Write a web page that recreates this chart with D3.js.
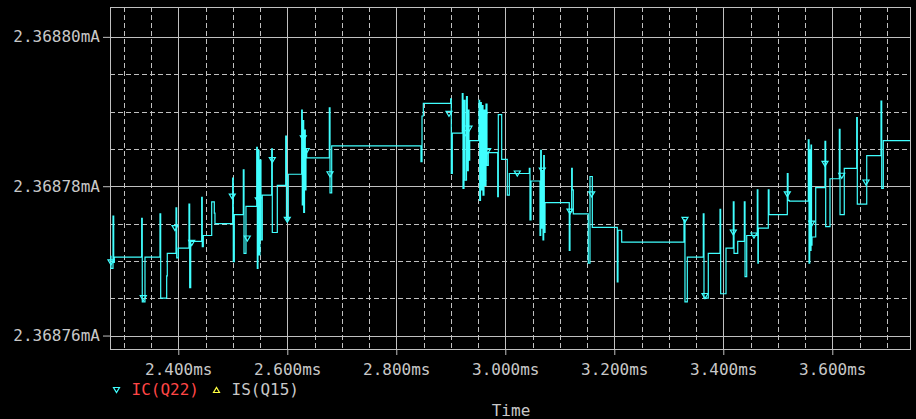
<!DOCTYPE html>
<html>
<head>
<meta charset="utf-8">
<script src="https://cdn.jsdelivr.net/npm/d3@7"></script>
<style>
body { margin: 0; background: #000; }
svg { display: block; }
text { font-family: 'DejaVu Sans Mono', monospace; font-size: 16px; fill: #c8c8c8; }
</style>
</head>
<body>
<svg id="chart" width="916" height="419"></svg>
<script>
// IC(Q22) trace (ms, mA). Each value holds until the next time.
var times = [
	2.2747, 2.2765, 2.2802, 2.2815, 2.2826, 2.3328, 2.3339, 2.3389, 2.3664, 2.3677,
	2.3787, 2.3798, 2.3958, 2.3971, 2.4000, 2.4196, 2.4209, 2.4228, 2.4429, 2.4440,
	2.4459, 2.4613, 2.4661, 2.4673, 2.4998, 2.5009, 2.5028, 2.5193, 2.5206, 2.5242,
	2.5439, 2.5450, 2.5462, 2.5481, 2.5499, 2.5517, 2.5541, 2.5714, 2.5725, 2.5817,
	2.5971, 2.5985, 2.6018, 2.6264, 2.6275, 2.6288, 2.6301, 2.6316, 2.6330, 2.6343,
	2.6356, 2.6771, 2.6784, 2.6815, 2.8453, 2.8472, 2.8496, 2.8998, 2.9009, 2.9028,
	2.9211, 2.9224, 2.9242, 2.9261, 2.9288, 2.9303, 2.9321, 2.9334, 2.9347, 2.9518,
	2.9530, 2.9545, 2.9560, 2.9573, 2.9591, 2.9609, 2.9628, 2.9646, 2.9664, 2.9688,
	2.9861, 2.9872, 2.9934, 3.0037, 3.0074, 3.0441, 3.0453, 3.0472, 3.0637, 3.0650,
	3.0661, 3.0674, 3.0692, 3.0705, 3.0716, 3.0729, 3.1174, 3.1187, 3.1218, 3.1229,
	3.1248, 3.1523, 3.1554, 3.1597, 3.2055, 3.2068, 3.2136, 3.3279, 3.3297, 3.3340,
	3.3633, 3.3646, 3.3725, 3.3940, 3.3952, 3.4050, 3.4184, 3.4197, 3.4265, 3.4386,
	3.4399, 3.4430, 3.4624, 3.4635, 3.4643, 3.4826, 3.4839, 3.5175, 3.5188, 3.5211,
	3.5560, 3.5573, 3.5586, 3.5597, 3.5610, 3.5619, 3.5628, 3.5696, 3.5866, 3.5879,
	3.5958, 3.6129, 3.6142, 3.6220, 3.6448, 3.6459, 3.6632, 3.6894, 3.6907, 3.6936,
	3.7426
];
var currents = [
	2.3687706, 2.3687690, 2.3687760, 2.3687698, 2.3687705, 2.3687757, 2.3687645, 2.3687705, 2.3687763, 2.3687650,
	2.3687680, 2.3687710, 2.3687771, 2.3687704, 2.3687717, 2.3687776, 2.3687664, 2.3687726, 2.3687785, 2.3687719,
	2.3687734, 2.3687779, 2.3687764, 2.3687750, 2.3687811, 2.3687699, 2.3687762, 2.3687822, 2.3687710, 2.3687773,
	2.3687852, 2.3687690, 2.3687848, 2.3687708, 2.3687835, 2.3687728, 2.3687788, 2.3687850, 2.3687738, 2.3687801,
	2.3687867, 2.3687755, 2.3687816, 2.3687902, 2.3687775, 2.3687888, 2.3687765, 2.3687875, 2.3687795, 2.3687848,
	2.3687838, 2.3687905, 2.3687791, 2.3687854, 2.3687833, 2.3687894, 2.3687911, 2.3687917, 2.3687817, 2.3687871,
	2.3687924, 2.3687797, 2.3687915, 2.3687808, 2.3687920, 2.3687821, 2.3687902, 2.3687835, 2.3687861, 2.3687915,
	2.3687781, 2.3687912, 2.3687795, 2.3687908, 2.3687788, 2.3687902, 2.3687801, 2.3687910, 2.3687828, 2.3687845,
	2.3687786, 2.3687896, 2.3687836, 2.3687788, 2.3687817, 2.3687824, 2.3687755, 2.3687807, 2.3687734, 2.3687848,
	2.3687744, 2.3687821, 2.3687728, 2.3687841, 2.3687738, 2.3687778, 2.3687714, 2.3687766, 2.3687824, 2.3687795,
	2.3687763, 2.3687697, 2.3687813, 2.3687745, 2.3687672, 2.3687741, 2.3687725, 2.3687755, 2.3687645, 2.3687705,
	2.3687763, 2.3687650, 2.3687710, 2.3687769, 2.3687656, 2.3687717, 2.3687779, 2.3687710, 2.3687726, 2.3687779,
	2.3687679, 2.3687734, 2.3687795, 2.3687697, 2.3687744, 2.3687795, 2.3687762, 2.3687817, 2.3687781, 2.3687780,
	2.3687862, 2.3687697, 2.3687848, 2.3687714, 2.3687855, 2.3687721, 2.3687732, 2.3687798, 2.3687860, 2.3687746,
	2.3687810, 2.3687876, 2.3687762, 2.3687824, 2.3687892, 2.3687776, 2.3687841, 2.3687914, 2.3687797, 2.3687861,
	2.3687861
];
// marker symbols on the trace
var markerTimes = [
	2.2765, 2.3358, 2.3939, 2.4246, 2.4991, 2.5266, 2.5468, 2.5725, 2.6000, 2.6294,
	2.6349, 2.6784, 2.8967, 2.9274, 2.9334, 2.9585, 2.9615, 2.9677, 3.0220, 3.0679,
	3.1187, 3.1585, 3.3297, 3.3664, 3.4184, 3.4563, 3.5175, 3.5622, 3.5866, 3.6173,
	3.6619
];
var markerCurrents = [
	2.3687698, 2.3687650, 2.3687744, 2.3687724, 2.3687786, 2.3687730, 2.3687781, 2.3687835, 2.3687755, 2.3687864,
	2.3687847, 2.3687816, 2.3687897, 2.3687871, 2.3687877, 2.3687804, 2.3687895, 2.3687847, 2.3687817, 2.3687821,
	2.3687766, 2.3687789, 2.3687755, 2.3687653, 2.3687738, 2.3687734, 2.3687789, 2.3687750, 2.3687830, 2.3687814,
	2.3687805
];
var xTicks = [2.4, 2.6, 2.8, 3.0, 3.2, 3.4, 3.6];
var yTicks = [2.36876, 2.36878, 2.36880];
var legendNames = ['IC(Q22)', 'IS(Q15)'];
var legendColors = ['#ff4646', '#c8c8c8'];
var markerColors = ['#40ffff', '#ffff40'];

var svg = d3.select('#chart'),
	margin = { left: 110, top: 7, right: 6, bottom: 70 },
	width = +svg.attr('width') - margin.left - margin.right,
	height = +svg.attr('height') - margin.top - margin.bottom,
	grey = '#c0c0c0';

var x = d3.scaleLinear().domain([2.2747, 3.7426]).range([0, width]);
var y = d3.scaleLinear().domain([2.3687582, 2.3688040]).range([height, 0]);

var g = svg.append('g').attr('transform', 'translate(' + margin.left + ',' + margin.top + ')');

// minor (dashed) grid
var xMinor = d3.range(2.30, 3.75, 0.05).filter(function (d) {
	return d > x.domain()[0] && d < x.domain()[1] && Math.abs(d * 5 - Math.round(d * 5)) > 1e-6;
});
var yMinor = d3.range(2.368755, 2.368805, 0.000005).filter(function (d) {
	return d > y.domain()[0] && d < y.domain()[1] && Math.abs(d * 50000 - Math.round(d * 50000)) > 1e-4;
});
g.append('g').selectAll('line').data(xMinor).enter().append('line')
	.attr('x1', function (d) { return Math.round(x(d)) + 0.5; })
	.attr('x2', function (d) { return Math.round(x(d)) + 0.5; })
	.attr('y1', 0).attr('y2', height)
	.attr('stroke', grey).attr('stroke-dasharray', '5,3');
g.append('g').selectAll('line').data(yMinor).enter().append('line')
	.attr('y1', function (d) { return Math.round(y(d)) + 0.5; })
	.attr('y2', function (d) { return Math.round(y(d)) + 0.5; })
	.attr('x1', 0).attr('x2', width)
	.attr('stroke', grey).attr('stroke-dasharray', '5,3');

// major (solid) grid
g.append('g').selectAll('line').data(xTicks).enter().append('line')
	.attr('x1', function (d) { return Math.round(x(d)) + 0.5; })
	.attr('x2', function (d) { return Math.round(x(d)) + 0.5; })
	.attr('y1', 0).attr('y2', height)
	.attr('stroke', grey);
g.append('g').selectAll('line').data(yTicks).enter().append('line')
	.attr('y1', function (d) { return Math.round(y(d)) + 0.5; })
	.attr('y2', function (d) { return Math.round(y(d)) + 0.5; })
	.attr('x1', 0).attr('x2', width)
	.attr('stroke', grey);

// frame
g.append('rect').attr('x', 0.5).attr('y', 0.5)
	.attr('width', width).attr('height', height)
	.attr('fill', 'none').attr('stroke', grey);

// axes
var xAxis = g.append('g').attr('transform', 'translate(0,' + height + ')')
	.call(d3.axisBottom(x).tickValues(xTicks).tickSize(6).tickPadding(8.5)
		.tickFormat(function (d) { return d3.format('.3f')(d) + 'ms'; }));
var yAxis = g.append('g')
	.call(d3.axisLeft(y).tickValues(yTicks).tickSize(7).tickPadding(3)
		.tickFormat(function (d) { return d3.format('.5f')(d) + 'mA'; }));
[xAxis, yAxis].forEach(function (a) {
	a.select('.domain').remove();
	a.selectAll('line').attr('stroke', grey);
	a.selectAll('text').attr('fill', '#c8c8c8').style('font-size', '16px')
		.style('font-family', "'DejaVu Sans Mono', monospace");
});

// trace
g.append('clipPath').attr('id', 'plot-clip').append('rect')
	.attr('width', width).attr('height', height);
var line = d3.line()
	.x(function (d) { return x(d[0]); })
	.y(function (d) { return y(d[1]); })
	.curve(d3.curveStepAfter);
g.append('path')
	.datum(d3.zip(times, currents))
	.attr('clip-path', 'url(#plot-clip)')
	.attr('d', line)
	.attr('fill', 'none')
	.attr('stroke', markerColors[0])
	.attr('stroke-width', 1.2);

var downTri = 'M-3,-2.5L3,-2.5L0,2.5Z',
	upTri = 'M-3,2.5L3,2.5L0,-2.5Z';
g.append('g').selectAll('path').data(d3.zip(markerTimes, markerCurrents)).enter().append('path')
	.attr('transform', function (d) { return 'translate(' + x(d[0]) + ',' + y(d[1]) + ')'; })
	.attr('d', downTri)
	.attr('fill', 'none')
	.attr('stroke', markerColors[0])
	.attr('stroke-width', 1.2);

// legend
var legend = svg.append('g').attr('transform', 'translate(0,390)');
var item = legend.selectAll('g').data(legendNames).enter().append('g')
	.attr('transform', function (d, i) { return 'translate(' + (116.5 + i * 100) + ',0)'; });
item.append('path')
	.attr('d', function (d, i) { return i === 0 ? downTri : upTri; })
	.attr('fill', 'none')
	.attr('stroke', function (d, i) { return markerColors[i]; })
	.attr('stroke-width', 1.2);
item.append('text')
	.attr('x', 15).attr('y', 5)
	.style('fill', function (d, i) { return legendColors[i]; })
	.text(function (d) { return d; });

svg.append('text')
	.attr('x', 511).attr('y', 415.5)
	.attr('text-anchor', 'middle')
	.text('Time');
</script>
</body>
</html>
